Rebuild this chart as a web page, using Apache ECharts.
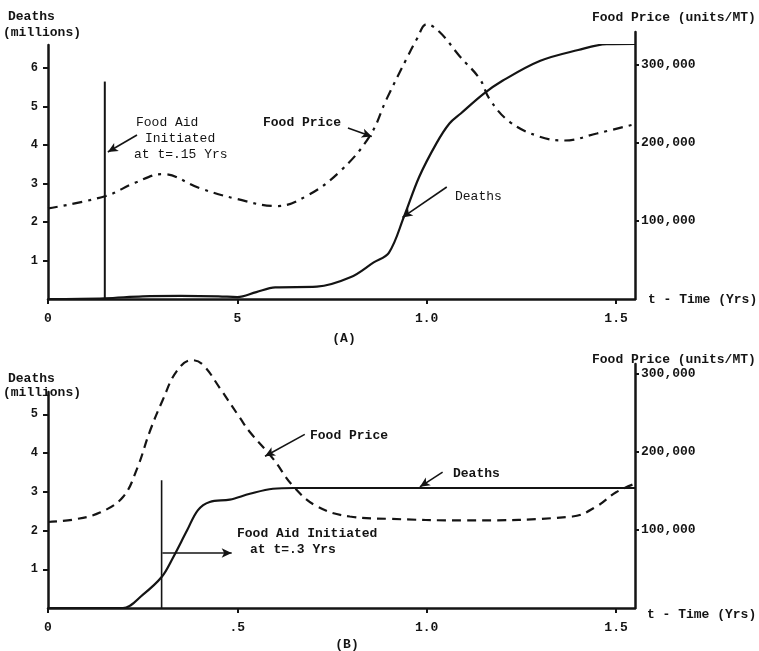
<!DOCTYPE html>
<html><head><meta charset="utf-8">
<script src="https://cdn.jsdelivr.net/npm/echarts@6/dist/echarts.min.js"></script>
<style>html,body{margin:0;padding:0;background:#fff}#c{width:759px;height:651px}</style>
</head><body><div id="c"></div>
<script>
// ---------- DATA ----------
// Panel (A): food aid initiated at t = .15 yrs
const tDeathsA = [0, 0.15, 0.25, 0.35, 0.45, 0.5, 0.55, 0.6, 0.71, 0.8, 0.86, 0.9, 0.94, 0.98, 1.026, 1.06, 1.09, 1.15, 1.2, 1.3, 1.4, 1.475, 1.55];
const deathsA  = [0, 0.02, 0.07, 0.08, 0.07, 0.05, 0.18, 0.3, 0.32, 0.57, 0.95, 1.2, 2.14, 3.17, 4.05, 4.56, 4.82, 5.33, 5.67, 6.19, 6.47, 6.62, 6.63];
const tPriceA  = [0, 0.153, 0.23, 0.303, 0.4, 0.5, 0.604, 0.683, 0.77, 0.85, 0.894, 0.947, 0.974, 1.0, 1.034, 1.087, 1.14, 1.166, 1.219, 1.298, 1.364, 1.449, 1.55];
const priceA   = [116000, 132000, 149000, 160000, 142000, 128000, 119000, 132000, 163000, 209000, 256000, 308000, 333000, 352000, 342000, 311000, 282000, 256000, 227000, 208000, 203000, 212000, 224000];
const aidTimeA = 0.15, aidTopA = 5.65;

// Panel (B): food aid initiated at t = .3 yrs
const tDeathsB = [0, 0.198, 0.25, 0.3, 0.33, 0.367, 0.396, 0.427, 0.48, 0.533, 0.594, 0.65, 1.0, 1.55];
const deathsB  = [0, 0, 0.34, 0.8, 1.3, 2.0, 2.53, 2.74, 2.8, 2.95, 3.08, 3.1, 3.1, 3.1];
const tPriceB  = [0, 0.066, 0.137, 0.198, 0.235, 0.269, 0.303, 0.34, 0.38, 0.409, 0.454, 0.507, 0.533, 0.594, 0.647, 0.71, 0.797, 0.9, 1.095, 1.385, 1.449, 1.5, 1.55];
const priceB   = [110000, 113000, 122000, 142000, 178000, 226000, 266000, 303000, 317000, 311000, 281000, 243000, 225000, 191000, 156000, 130000, 117000, 114000, 112000, 117000, 130000, 148000, 159000];
const aidTimeB = 0.3, aidTopB = 3.3;

// Axis ticks
const xTickValues  = [0, 0.5, 1.0, 1.5];
const xTickLabelsA = ['0', '5', '1.0', '1.5'];
const xTickLabelsB = ['0', '.5', '1.0', '1.5'];
const deathTicksA  = [1, 2, 3, 4, 5, 6];
const deathTicksB  = [1, 2, 3, 4, 5];
const priceTicks   = [100000, 200000, 300000];
const priceTickLabels = ['100,000', '200,000', '300,000'];

// ---------- CHART ----------
const INK = '#141414';
const FONT = '"Liberation Mono", "DejaVu Sans Mono", monospace';
const zip = (a, b) => a.map((v, i) => [v, b[i]]);

function xAxis(gi, labels, show) {
  return {
    type: 'value', gridIndex: gi, min: 0, max: 1.55, show: show,
    axisLine: { show: true, onZero: false, lineStyle: { color: INK, width: 2.5 } },
    axisTick: { show: true, customValues: xTickValues, length: 5, lineStyle: { color: INK, width: 2 } },
    axisLabel: { customValues: xTickValues, margin: 13, color: INK, fontFamily: FONT, fontWeight: 'bold', fontSize: 13,
      formatter: v => labels[xTickValues.indexOf(Math.round(v * 10) / 10)] ?? '' },
    splitLine: { show: false }
  };
}
function yLeft(gi, max, ticks) {
  return {
    type: 'value', gridIndex: gi, position: 'left', min: 0, max: max,
    axisLine: { show: true, onZero: false, lineStyle: { color: INK, width: 2.5 } },
    axisTick: { show: true, customValues: ticks, length: 5, lineStyle: { color: INK, width: 2 } },
    axisLabel: { customValues: ticks, margin: 10, color: INK, fontFamily: FONT, fontWeight: 'bold', fontSize: 12 },
    splitLine: { show: false }
  };
}
function yRight(gi, max) {
  return {
    type: 'value', gridIndex: gi, position: 'right', min: 0, max: max,
    axisLine: { show: true, onZero: false, lineStyle: { color: INK, width: 2.5 } },
    axisTick: { show: true, customValues: priceTicks, length: 4, lineStyle: { color: INK, width: 2 } },
    axisLabel: { customValues: priceTicks, margin: 6, color: INK, fontFamily: FONT, fontWeight: 'bold', fontSize: 13,
      formatter: v => priceTickLabels[priceTicks.indexOf(v)] ?? '' },
    splitLine: { show: false }
  };
}
const arrowLine = (pairs) => ({
  silent: true, symbol: ['none', 'arrow'], symbolSize: [7, 10], animation: false,
  label: { show: false }, lineStyle: { color: INK, width: 1.6, type: 'solid' },
  emphasis: { disabled: true },
  data: pairs.map(p => [{ coord: p[0] }, { coord: p[1] }])
});
function txt(text, x, y, weight, align) {
  return { type: 'text', x: x, y: y, silent: true,
    style: { text: text, fill: INK, font: (weight || 'bold') + ' 13px ' + FONT, verticalAlign: 'middle', align: align || 'left' } };
}

const option = {
  animation: false,
  backgroundColor: '#fff',
  grid: [
    { left: 48, right: 124, top: 45, bottom: 352, outerBoundsMode: 'none' },
    { left: 48, right: 124, top: 32, bottom: 352, outerBoundsMode: 'none' },
    { left: 48, right: 124, top: 392, bottom: 43, outerBoundsMode: 'none' },
    { left: 48, right: 124, top: 364, bottom: 43, outerBoundsMode: 'none' }
  ],
  xAxis: [xAxis(0, xTickLabelsA, true), xAxis(1, xTickLabelsA, false), xAxis(2, xTickLabelsB, true), xAxis(3, xTickLabelsB, false)],
  yAxis: [yLeft(0, 6.6, deathTicksA), yRight(1, 342000), yLeft(2, 5.58, deathTicksB), yRight(3, 312000)],
  series: [
    { type: 'line', name: 'Deaths A', xAxisIndex: 0, yAxisIndex: 0, data: zip(tDeathsA, deathsA), smooth: 0.35, showSymbol: false,
      lineStyle: { color: INK, width: 2.2 },
      markLine: arrowLine([[[1.053, 2.91], [0.936, 2.12]]]) },
    { type: 'line', name: 'Food Price A', xAxisIndex: 1, yAxisIndex: 1, data: zip(tPriceA, priceA), smooth: 0.4, showSymbol: false, clip: false,
      lineStyle: { color: INK, width: 2.2, type: [10, 6, 3, 6] },
      markLine: arrowLine([[[0.792, 219000], [0.855, 208000]]]) },
    { type: 'line', name: 'Food Aid A', xAxisIndex: 0, yAxisIndex: 0, data: [[aidTimeA, 0], [aidTimeA, aidTopA]], showSymbol: false,
      lineStyle: { color: INK, width: 2 },
      markLine: arrowLine([[[0.235, 4.26], [0.158, 3.82]]]) },
    { type: 'line', name: 'Deaths B', xAxisIndex: 2, yAxisIndex: 2, data: zip(tDeathsB, deathsB), smooth: 0.35, showSymbol: false,
      lineStyle: { color: INK, width: 2.2 },
      markLine: arrowLine([[[1.042, 3.51], [0.982, 3.13]]]) },
    { type: 'line', name: 'Food Price B', xAxisIndex: 3, yAxisIndex: 3, data: zip(tPriceB, priceB), smooth: 0.4, showSymbol: false, clip: false,
      lineStyle: { color: INK, width: 2.2, type: [9, 6] },
      markLine: arrowLine([[[0.678, 222000], [0.573, 194000]]]) },
    { type: 'line', name: 'Food Aid B', xAxisIndex: 2, yAxisIndex: 2, data: [[aidTimeB, 0], [aidTimeB, aidTopB]], showSymbol: false,
      lineStyle: { color: INK, width: 1.6 },
      markLine: arrowLine([[[0.302, 1.42], [0.485, 1.42]]]) }
  ],
  graphic: [
    // Panel A
    txt('Deaths', 8, 17), txt('(millions)', 3, 33),
    txt('Food Price (units/MT)', 592, 18),
    txt('t - Time (Yrs)', 648, 300),
    txt('Food Aid', 136, 123, 'normal'), txt('Initiated', 145, 139, 'normal'), txt('at t=.15 Yrs', 134, 155, 'normal'),
    txt('Food Price', 263, 123),
    txt('Deaths', 455, 197, 'normal'),
    txt('(A)', 344, 339, 'bold', 'center'),
    // Panel B
    txt('Deaths', 8, 379), txt('(millions)', 3, 393),
    txt('Food Price (units/MT)', 592, 360),
    txt('t - Time (Yrs)', 647, 615),
    txt('Food Price', 310, 436),
    txt('Deaths', 453, 474),
    txt('Food Aid Initiated', 237, 534), txt('at t=.3 Yrs', 250, 550),
    txt('(B)', 347, 645, 'bold', 'center')
  ]
};
const chart = echarts.init(document.getElementById('c'));
chart.setOption(option);
</script>
</body></html>
